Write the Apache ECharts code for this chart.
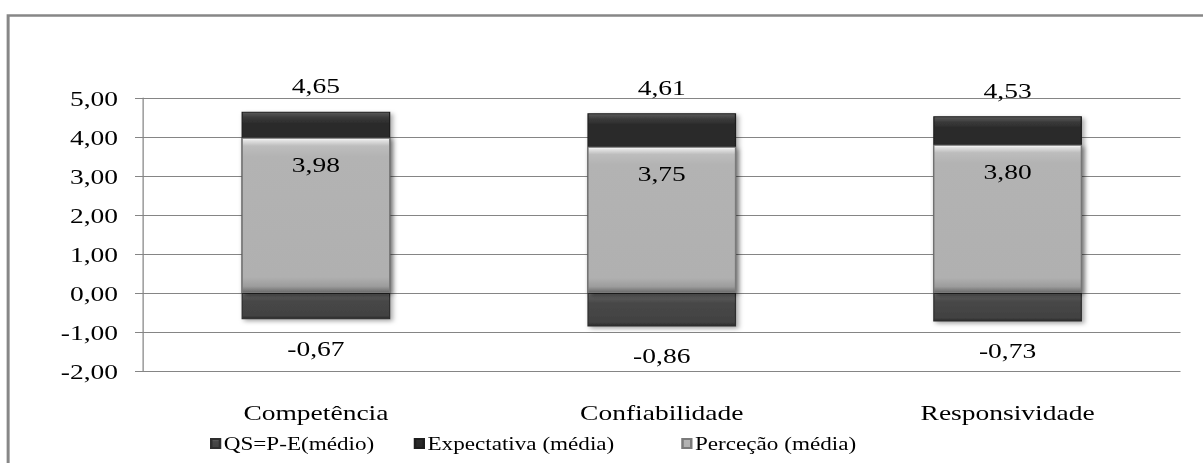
<!DOCTYPE html>
<html>
<head>
<meta charset="utf-8">
<script src="https://cdn.jsdelivr.net/npm/echarts@6/dist/echarts.min.js"></script>
<style>
  html, body { margin: 0; padding: 0; background: #ffffff; overflow: hidden; width: 1203px; height: 463px; }
  /* the chart is laid out narrower and widened horizontally, giving the wide serif lettering */
  #chart { position: absolute; left: 0; top: 0; width: 963px; height: 463px; transform: scaleX(1.25); transform-origin: 0 0; }
</style>
</head>
<body>
<div id="chart"></div>
<script>
// Categories and mean scores per dimension
const categories = ['Competência', 'Confiabilidade', 'Responsividade'];
const qsMedio = [-0.67, -0.86, -0.73];        // QS = P - E
const expectativaMedia = [4.65, 4.61, 4.53];
const percecaoMedia = [3.98, 3.75, 3.80];
const yTicks = { min: -2, max: 5, step: 1 };

const seriesNames = ['QS=P-E(médio)', 'Expectativa (média)', 'Perceção (média)'];

const fmt = v => Number(v).toFixed(2).replace('.', ',');
const FONT = '"Liberation Serif", "Times New Roman", serif';

function vGrad(stops) {
  return new echarts.graphic.LinearGradient(0, 0, 0, 1,
    stops.map(s => ({ offset: s[0], color: s[1] })));
}

const shadow = { shadowBlur: 4, shadowOffsetX: 2, shadowOffsetY: 2, shadowColor: 'rgba(0,0,0,0.35)' };

const chart = echarts.init(document.getElementById('chart'), null, { renderer: 'svg' });

const legendBase = {
  top: 429,
  itemWidth: 7,
  itemHeight: 9,
  icon: 'rect',
  textStyle: { fontFamily: FONT, fontSize: 18.5, color: '#000', padding: [0, 0, 0, -2] }
};

chart.setOption({
  animation: false,
  backgroundColor: '#ffffff',
  graphic: [{
    type: 'rect',
    left: 4, top: 13,
    shape: { width: 1000, height: 500 },
    style: { fill: 'none', stroke: '#878787', lineWidth: 2.4 },
    silent: true
  }],
  grid: { left: 114.4, right: 18.6, top: 98, bottom: 92 },
  legend: [
    Object.assign({ left: 163, data: [seriesNames[0]] }, legendBase),
    Object.assign({ left: 326, data: [seriesNames[1]] }, legendBase),
    Object.assign({ left: 540, data: [seriesNames[2]] }, legendBase)
  ],
  xAxis: {
    type: 'category',
    data: categories,
    axisLine: { show: false },
    axisTick: { show: false },
    axisLabel: { margin: 30, fontFamily: FONT, fontSize: 22, color: '#000' }
  },
  yAxis: {
    type: 'value',
    min: yTicks.min, max: yTicks.max, interval: yTicks.step,
    axisLine: { show: true, lineStyle: { color: '#858585', width: 1 } },
    axisTick: { show: true, length: 6.4, lineStyle: { color: '#858585' } },
    axisLabel: { margin: 20, fontFamily: FONT, fontSize: 22, color: '#000', formatter: fmt },
    splitLine: { show: true, lineStyle: { color: '#858585', width: 1 } }
  },
  series: [
    {
      name: seriesNames[0],
      type: 'bar',
      data: qsMedio,
      barWidth: '43%',
      barGap: '-100%',
      itemStyle: Object.assign({
        color: vGrad([[0, '#7a7a7a'], [0.08, '#5e5e5e'], [0.3, '#474747'], [0.88, '#424242'], [1, '#2a2a2a']]),
        borderColor: '#2e2e2e', borderWidth: 1
      }, shadow),
      label: {
        show: true, position: 'bottom', distance: 18,
        fontFamily: FONT, fontSize: 22, color: '#000', formatter: p => fmt(p.value)
      }
    },
    {
      name: seriesNames[1],
      type: 'bar',
      data: expectativaMedia,
      barWidth: '43%',
      barGap: '-100%',
      itemStyle: Object.assign({
        color: vGrad([[0, '#5a5a5a'], [0.03, '#3a3a3a'], [0.06, '#2c2c2c'], [1, '#262626']]),
        borderColor: '#1e1e1e', borderWidth: 1
      }, shadow),
      label: {
        show: true, position: 'top', distance: 15,
        fontFamily: FONT, fontSize: 22, color: '#000', formatter: p => fmt(p.value)
      }
    },
    {
      name: seriesNames[2],
      type: 'bar',
      data: percecaoMedia,
      barWidth: '43%',
      barGap: '-100%',
      itemStyle: Object.assign({
        color: vGrad([[0, '#ffffff'], [0.015, '#e2e2e2'], [0.05, '#bdbdbd'], [0.12, '#b3b3b3'], [0.9, '#b0b0b0'], [0.96, '#9c9c9c'], [1, '#6a6a6a']]),
        borderColor: '#7a7a7a', borderWidth: 1
      }, shadow),
      label: {
        show: true, position: 'insideTop', distance: 16,
        fontFamily: FONT, fontSize: 22, color: '#000', formatter: p => fmt(p.value)
      }
    }
  ]
});
</script>
</body>
</html>
